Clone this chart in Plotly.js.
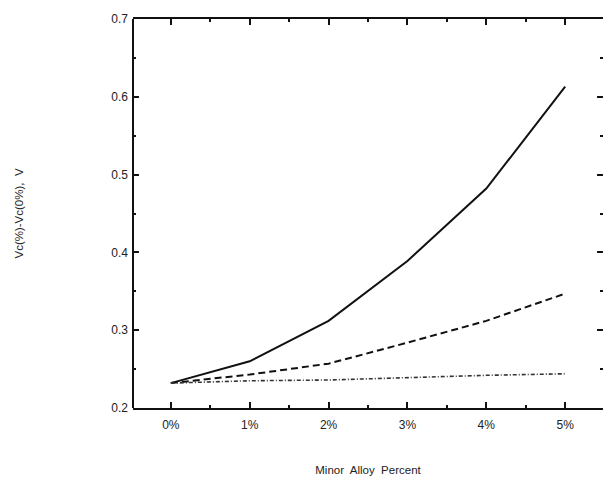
<!DOCTYPE html>
<html>
<head>
<meta charset="utf-8">
<script src="https://cdn.plot.ly/plotly-3.0.1.min.js"></script>
<style>html,body{margin:0;padding:0;background:#fff;overflow:hidden;}#chart{width:603px;height:480px;}</style>
</head>
<body>
<div id="chart"></div>
<script>
const alloyPct = [0, 1, 2, 3, 4, 5];
const tickLabels = ["0%", "1%", "2%", "3%", "4%", "5%"];
const solidSeries = [0.232, 0.260, 0.312, 0.389, 0.482, 0.613];
const dashedSeries = [0.232, 0.243, 0.257, 0.284, 0.312, 0.347];
const dashdotSeries = [0.232, 0.235, 0.236, 0.239, 0.242, 0.244];

const traces = [
  {x: alloyPct, y: solidSeries, mode: 'lines', line: {color: '#111', width: 2, dash: 'solid'}},
  {x: alloyPct, y: dashedSeries, mode: 'lines', line: {color: '#111', width: 2, dash: '7px,4px'}},
  {x: alloyPct, y: dashdotSeries, mode: 'lines', line: {color: '#333', width: 1.6, dash: '4px,2px,1px,2px'}}
];

const axisCommon = {
  showgrid: false, zeroline: false, linecolor: '#111', linewidth: 2,
  ticks: 'inside', ticklen: 6, tickwidth: 2, tickcolor: '#111', mirror: 'allticks',
  tickfont: {family: 'Liberation Sans, Arial, sans-serif', size: 12, color: '#222'}
};

const layout = {
  width: 603, height: 480,
  margin: {l: 133, r: 0, t: 19, b: 72},
  paper_bgcolor: '#fff', plot_bgcolor: '#fff',
  showlegend: false,
  xaxis: Object.assign({}, axisCommon, {
    showline: true,
    range: [-0.48, 5.48], tickmode: 'array', tickvals: alloyPct, ticktext: tickLabels,
    ticklabelstandoff: 5,
    minor: {dtick: 0.5, tick0: 0, ticks: 'inside', ticklen: 3, tickwidth: 2, tickcolor: '#111', showgrid: false},
    title: {text: 'Minor  Alloy  Percent', standoff: 35, font: {family: 'Liberation Sans, Arial, sans-serif', size: 11.5, color: '#222'}}
  }),
  yaxis: Object.assign({}, axisCommon, {
    showline: false,
    range: [0.2, 0.7], dtick: 0.1, tick0: 0.2, tickformat: '.1f',
    ticklabelstandoff: 4,
    minor: {dtick: 0.05, ticks: 'inside', ticklen: 3, tickwidth: 2, tickcolor: '#111', showgrid: false},
    title: {text: 'Vc(%)-Vc(0%),  V', standoff: 85, font: {family: 'Liberation Sans, Arial, sans-serif', size: 11.5, color: '#222'}}
  }),
  shapes: [
    {type: 'line', xref: 'paper', yref: 'paper', x0: 0, x1: 0, y0: 0, y1: 1, line: {color: '#111', width: 2}}
  ]
};

Plotly.newPlot('chart', traces, layout, {staticPlot: true, displayModeBar: false});
</script>
</body>
</html>
